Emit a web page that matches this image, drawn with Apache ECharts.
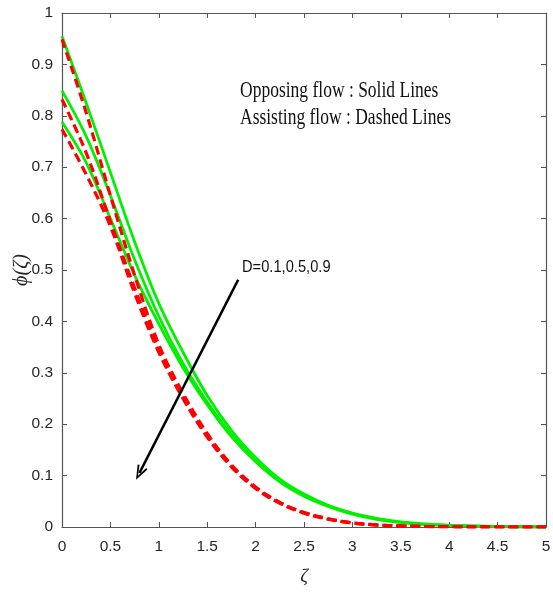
<!DOCTYPE html>
<html>
<head>
<meta charset="utf-8">
<script src="https://cdn.jsdelivr.net/npm/echarts@6/dist/echarts.min.js"></script>
<style>
html,body{margin:0;padding:0;background:#fff;}
#chart{width:553px;height:594px;}
</style>
</head>
<body>
<div id="chart"></div>
<script>
// Data
const zeta = [0, 0.25, 0.5, 0.75, 1, 1.25, 1.5, 1.75, 2, 2.25, 2.5, 2.75, 3, 3.25, 3.5, 3.75, 4, 4.5, 5];
// Opposing flow (solid green), D = 0.1, 0.5, 0.9
const opposingD01 = [0.955, 0.825, 0.69, 0.555, 0.435, 0.34, 0.256, 0.188, 0.135, 0.093, 0.064, 0.042, 0.027, 0.017, 0.010, 0.006, 0.003, 0.001, 0];
const opposingD05 = [0.849, 0.76, 0.645, 0.52, 0.41, 0.318, 0.243, 0.180, 0.130, 0.090, 0.062, 0.041, 0.026, 0.016, 0.009, 0.005, 0.003, 0.001, 0];
const opposingD09 = [0.788, 0.709, 0.60, 0.49, 0.395, 0.31, 0.238, 0.176, 0.127, 0.088, 0.060, 0.040, 0.025, 0.015, 0.009, 0.005, 0.003, 0.001, 0];
// Assisting flow (dashed red), D = 0.1, 0.5, 0.9
const assistingD01 = [0.949, 0.806, 0.645, 0.49, 0.355, 0.26, 0.182, 0.121, 0.078, 0.048, 0.028, 0.016, 0.008, 0.004, 0.002, 0.001, 0.0005, 0, 0];
const assistingD05 = [0.832, 0.728, 0.595, 0.465, 0.345, 0.252, 0.177, 0.118, 0.076, 0.047, 0.028, 0.016, 0.008, 0.004, 0.002, 0.001, 0.0005, 0, 0];
const assistingD09 = [0.774, 0.686, 0.585, 0.455, 0.34, 0.25, 0.175, 0.117, 0.075, 0.046, 0.027, 0.015, 0.008, 0.004, 0.002, 0.001, 0.0005, 0, 0];
// Arrow annotation (data coordinates)
const arrowStart = [1.82, 0.481];
const arrowEnd = [0.80, 0.105];
const xTickInterval = 0.5;
const yTickInterval = 0.1;

function pairs(ys){ return zeta.map((x,i)=>[x, ys[i]]); }

const chart = echarts.init(document.getElementById('chart'), null, {renderer:'canvas'});
const axisCol = '#555';
const labelFont = {color:'#262626', fontSize:15.5, fontFamily:'"Liberation Sans", Arial, sans-serif'};

function solid(name, ys){
  return {name, type:'line', data:pairs(ys), smooth:0.35, showSymbol:false, symbol:'none', clip:true,
    lineStyle:{color:'#00f000', width:2.8}, z:2, animation:false};
}
function dashed(name, ys){
  return {name, type:'line', data:pairs(ys), smooth:0.35, showSymbol:false, symbol:'none', clip:true,
    lineStyle:{color:'#ff0000', width:3.2, type:[9,5]}, z:3, animation:false};
}

const series = [
  solid('Opposing D=0.1', opposingD01),
  solid('Opposing D=0.5', opposingD05),
  solid('Opposing D=0.9', opposingD09),
  dashed('Assisting D=0.1', assistingD01),
  dashed('Assisting D=0.5', assistingD05),
  dashed('Assisting D=0.9', assistingD09)
];
series[0].markLine = {
  silent:true, animation:false,
  symbol:['none','path://M5,0 L10,13 L8.4,13.6 L5,4 L1.6,13.6 L0,13 Z'],
  symbolSize:[11,15],
  label:{show:false},
  lineStyle:{color:'#000', width:2.6, type:'solid'},
  data:[[{coord:arrowStart},{coord:arrowEnd}]]
};

const option = {
  animation:false,
  backgroundColor:'#fff',
  grid:{left:62, right:7, top:13, bottom:67, containLabel:false, outerBoundsMode:'none'},
  xAxis:[{
    type:'value', min:0, max:5, interval:xTickInterval, position:'bottom',
    axisLine:{show:true, onZero:false, lineStyle:{color:axisCol, width:1.2}},
    axisTick:{show:true, inside:true, length:5, lineStyle:{color:axisCol}},
    axisLabel:Object.assign({margin:12}, labelFont),
    splitLine:{show:false},
    name:'ζ', nameLocation:'middle', nameGap:40, nameMoveOverlap:false,
    nameTextStyle:{fontFamily:'"Liberation Serif", "Times New Roman", serif', fontStyle:'italic', fontSize:19, color:'#262626'}
  },{
    type:'value', min:0, max:5, interval:xTickInterval, position:'top',
    axisLine:{show:true, onZero:false, lineStyle:{color:axisCol, width:1.2}},
    axisTick:{show:true, inside:true, length:5, lineStyle:{color:axisCol}},
    axisLabel:{show:false}, splitLine:{show:false}
  }],
  yAxis:[{
    type:'value', min:0, max:1, interval:yTickInterval, position:'left',
    axisLine:{show:true, onZero:false, lineStyle:{color:axisCol, width:1.2}},
    axisTick:{show:true, inside:true, length:5, lineStyle:{color:axisCol}},
    axisLabel:Object.assign({margin:9}, labelFont),
    splitLine:{show:false},
    name:'ϕ(ζ)', nameLocation:'middle', nameGap:30, nameRotate:90, nameMoveOverlap:false,
    nameTextStyle:{fontFamily:'"Liberation Serif", "Times New Roman", serif', fontStyle:'italic', fontSize:20, color:'#262626'}
  },{
    type:'value', min:0, max:1, interval:yTickInterval, position:'right',
    axisLine:{show:true, onZero:false, lineStyle:{color:axisCol, width:1.2}},
    axisTick:{show:true, inside:true, length:5, lineStyle:{color:axisCol}},
    axisLabel:{show:false}, splitLine:{show:false}
  }],
  graphic:[
    {type:'text', left:240, top:80, scaleY:1.28, z:10,
      style:{text:'Opposing flow : Solid Lines', fill:'#111', font:'17.5px "Liberation Serif", "Times New Roman", serif'}},
    {type:'text', left:240, top:107, scaleY:1.28, z:10,
      style:{text:'Assisting flow : Dashed Lines', fill:'#111', font:'17.5px "Liberation Serif", "Times New Roman", serif'}},
    {type:'text', left:242, top:258, scaleY:1.18, z:10,
      style:{text:'D=0.1,0.5,0.9', fill:'#111', font:'14.7px "Liberation Sans", Arial, sans-serif'}}
  ],
  series
};
chart.setOption(option);
</script>
</body>
</html>
